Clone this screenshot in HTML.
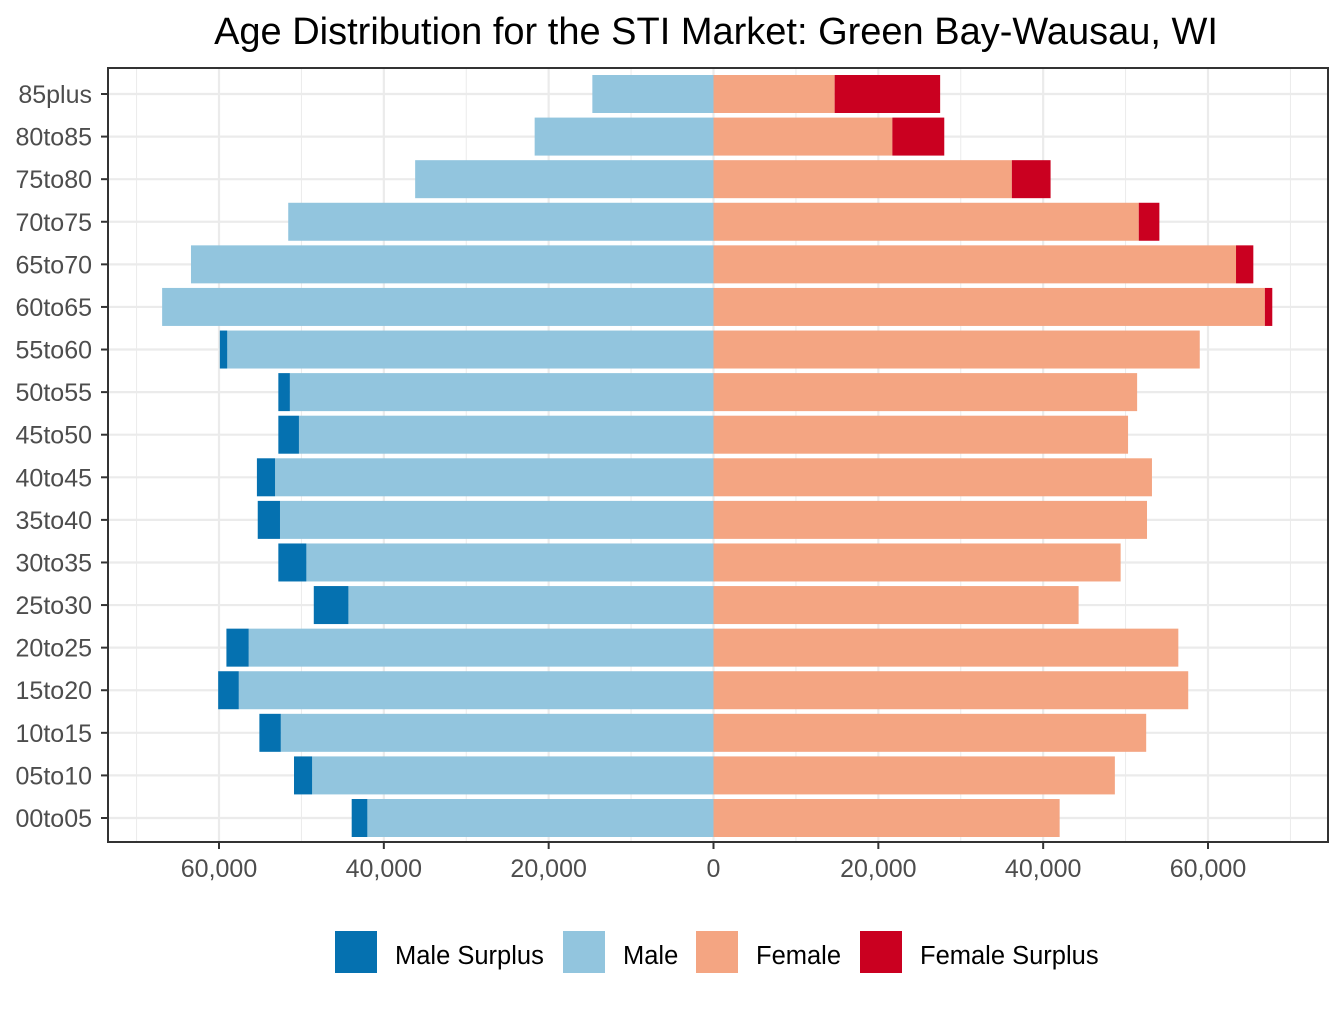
<!DOCTYPE html>
<html><head><meta charset="utf-8"><style>
body{margin:0;background:#fff;font-family:"Liberation Sans",Arial,sans-serif}
svg text{font-family:"Liberation Sans",Arial,sans-serif}
</style></head><body>
<svg id="chart" width="1344" height="1008" xmlns="http://www.w3.org/2000/svg">
<text x="716" y="44" text-anchor="middle" font-size="38" fill="#000">Age Distribution for the STI Market: Green Bay-Wausau, WI</text>
<g id="grid"></g>
<g id="bars"></g>
<rect x="108" y="68" width="1220" height="774" fill="none" stroke="#333" stroke-width="2"/>
<g id="axes"></g>
<g>
<rect x="335" y="931" width="42" height="42" fill="#0571b0"/>
<text x="395" y="964" font-size="25.5">Male Surplus</text>
<rect x="563" y="931" width="42" height="42" fill="#92c5de"/>
<text x="623" y="964" font-size="25.5">Male</text>
<rect x="696" y="931" width="42" height="42" fill="#f4a582"/>
<text x="756" y="964" font-size="25.5">Female</text>
<rect x="860" y="931" width="42" height="42" fill="#ca0020"/>
<text x="920" y="964" font-size="25.5">Female Surplus</text>
</g>
</svg>
<script>
const categories = ["85plus","80to85","75to80","70to75","65to70","60to65","55to60","50to55","45to50","40to45","35to40","30to35","25to30","20to25","15to20","10to15","05to10","00to05"];
const maleValues = [14700,21700,36200,51600,63400,66900,59900,52800,52800,55400,55300,52800,48500,59100,60100,55100,50900,43900];
const femaleValues = [27500,28000,40900,54100,65500,67800,59000,51400,50300,53200,52600,49400,44300,56400,57600,52500,48700,42000];
const majorTicks = [-60000,-40000,-20000,0,20000,40000,60000];
const minorTicks = [-70000,-50000,-30000,-10000,10000,30000,50000,70000];
const tickLabels = ["60,000","40,000","20,000","0","20,000","40,000","60,000"];

const NS="http://www.w3.org/2000/svg";
const x0=713.5, k=494.5/60000, panelTop=68, panelBottom=842;
const xs=v=>x0+v*k;
const rowStep=(818-94)/17;
const ys=i=>94+i*rowStep;
const bh=38;
function mk(tag,attrs,parent){const e=document.createElementNS(NS,tag);for(const a in attrs)e.setAttribute(a,attrs[a]);parent.appendChild(e);return e;}
const grid=document.getElementById('grid'),bars=document.getElementById('bars'),axes=document.getElementById('axes');
mk('rect',{x:108,y:68,width:1220,height:774,fill:'#fff'},grid);
minorTicks.forEach(v=>{const l=mk('line',{x1:xs(v),x2:xs(v),y1:panelTop,y2:panelBottom,stroke:'#ebebeb','stroke-width':1},grid);

});
majorTicks.forEach(v=>{const l=mk('line',{x1:xs(v),x2:xs(v),y1:panelTop,y2:panelBottom,stroke:'#ebebeb','stroke-width':2.2},grid);

});
categories.forEach((c,i)=>{const l=mk('line',{x1:108,x2:1328,y1:ys(i),y2:ys(i),stroke:'#ebebeb','stroke-width':2.2},grid);

});
categories.forEach((c,i)=>{
 const m=maleValues[i],f=femaleValues[i],b=Math.min(m,f),y=ys(i)-bh/2;
 let r=mk('rect',{x:xs(-b),y:y,width:xs(0)-xs(-b),height:bh,fill:'#92c5de'},bars);
 
 
 r=mk('rect',{x:xs(0),y:y,width:xs(b)-xs(0),height:bh,fill:'#f4a582'},bars);
 
 
 if(m>f){r=mk('rect',{x:xs(-m),y:y,width:xs(-b)-xs(-m),height:bh,fill:'#0571b0'},bars);
 
 }
 if(f>m){r=mk('rect',{x:xs(b),y:y,width:xs(f)-xs(b),height:bh,fill:'#ca0020'},bars);
 
 }
 mk('line',{x1:101,x2:108,y1:ys(i),y2:ys(i),stroke:'#333','stroke-width':2},axes);
 const t=mk('text',{x:92,y:ys(i)+9,'text-anchor':'end','font-size':25,fill:'#4d4d4d'},axes);
 t.textContent=c;
 
 
});
majorTicks.forEach((v,i)=>{
 mk('line',{x1:xs(v),x2:xs(v),y1:842,y2:849,stroke:'#333','stroke-width':2},axes);
 const t=mk('text',{x:xs(v),y:877,'text-anchor':'middle','font-size':25,fill:'#4d4d4d'},axes);
 t.textContent=tickLabels[i];
 
 
});
</script>
</body></html>
